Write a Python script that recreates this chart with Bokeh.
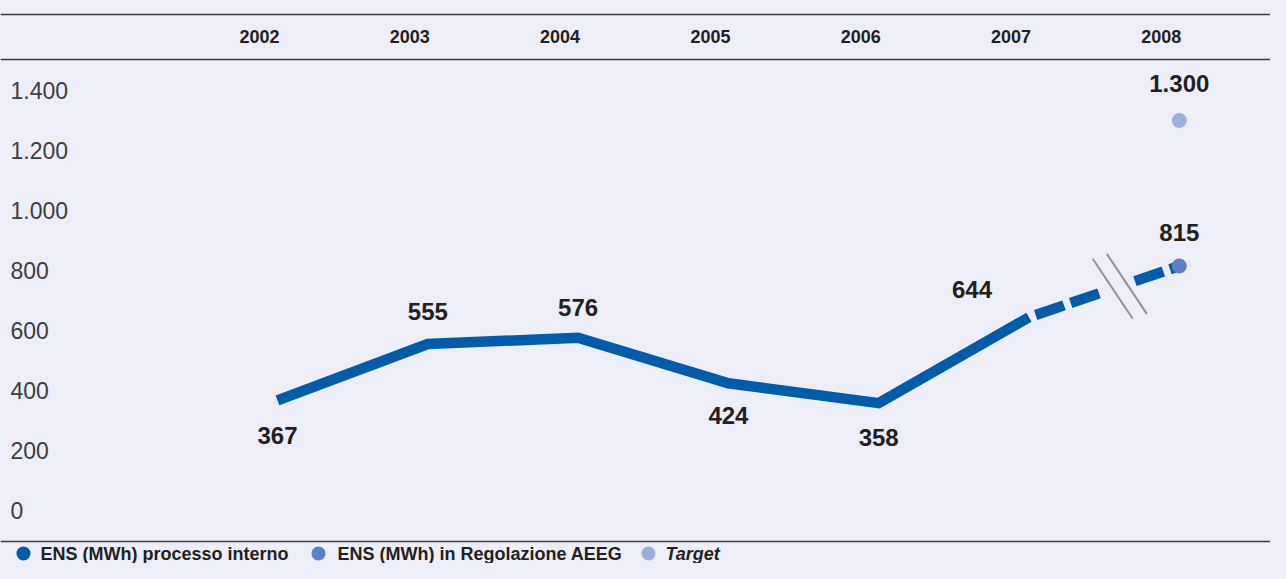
from bokeh.plotting import figure
from bokeh.models import ColumnDataSource, Span, Range1d, GlobalInlineStyleSheet
from bokeh.core.properties import value
from bokeh.embed import file_html
from bokeh.resources import INLINE

# ---------------- data ----------------
years = ["2002", "2003", "2004", "2005", "2006", "2007", "2008"]
ens_internal = [367, 555, 576, 424, 358, 644]          # ENS (MWh) processo interno, 2002-2007
ens_aeeg = [815]                                        # ENS (MWh) in Regolazione AEEG, 2008
target = [1300]                                         # Target, 2008
y_ticks = [0, 200, 400, 600, 800, 1000, 1200, 1400]
legend_labels = ["ENS (MWh) processo interno", "ENS (MWh) in Regolazione AEEG", "Target"]

# ---------------- styles ----------------
BG = "#eeeef8"
C_INT = "#005ca8"
C_AEEG = "#5b80c3"
C_TGT = "#9cafdc"
TXT = "#231f20"
FONT = value("Liberation Sans")

W, H = 1270, 563
PX_PER_CAT = 150.3
PX_PER_UNIT = 0.3
X0 = -277 / PX_PER_CAT            # category index at left canvas edge
Y_TOP = 510 / PX_PER_UNIT         # value at top canvas edge


def sx(px):
    return X0 + px / PX_PER_CAT


def sy(px):
    return Y_TOP - px / PX_PER_UNIT


def fmt(v):
    return f"{v:,}".replace(",", ".")


p = figure(width=W, height=H, output_backend="svg", toolbar_location=None,
           x_range=Range1d(sx(0), sx(W)), y_range=Range1d(sy(H), sy(0)),
           min_border=0)
p.axis.visible = False
p.grid.visible = False
p.outline_line_color = None
p.background_fill_color = BG
p.border_fill_color = BG
p.stylesheets = [GlobalInlineStyleSheet(css="html, body { background-color: #eeeef8; }")]

# horizontal rules
for py in (14, 59, 541):
    p.add_layout(Span(location=sy(py), dimension="width", line_color="#3a3a3a", line_width=1.5))

# year header
n = len(years)
p.text(x=list(range(n)), y=[sy(36)] * n, text=years, x_offset=-18,
       text_font=FONT, text_font_size="18px", text_font_style="bold",
       text_color=TXT, text_align="center", text_baseline="middle")

# y tick labels (left aligned)
p.text(x=[sx(10)] * len(y_ticks), y=y_ticks, text=[fmt(v) for v in y_ticks],
       text_font=FONT, text_font_size="23px", text_color="#3d3d3d",
       text_align="left", text_baseline="middle")

# main line
xi = list(range(len(ens_internal)))
p.line(x=xi, y=ens_internal, line_color=C_INT, line_width=10.5, line_join="miter")

# dashed link 2007 -> 2008 with break
x7, x8 = len(ens_internal) - 1, n - 1
v7, v8 = ens_internal[-1], ens_aeeg[0]


def interp(f):
    return x7 + f * (x8 - x7), v7 + f * (v8 - v7)


fa, fb = 0.49, 0.705
xa, ya = interp(fa)
xb, yb = interp(fb)
p.line(x=[x7, xa], y=[v7, ya], line_color=C_INT, line_width=10.5,
       line_dash="30 7", line_dash_offset=30)
p.line(x=[xb, x8], y=[yb, v8], line_color=C_INT, line_width=10.5, line_dash="30 7")

hx, hy = 20 / PX_PER_CAT, 30 / PX_PER_UNIT
for f in (0.557, 0.651):
    cx, cy = interp(f)
    p.segment(x0=[cx - hx], y0=[cy + hy], x1=[cx + hx], y1=[cy - hy],
              line_color="#929292", line_width=2)

# 2008 points
p.scatter(x=[x8], y=ens_aeeg, size=15, fill_color=C_AEEG, line_color=None)
p.scatter(x=[x8], y=target, size=15, fill_color=C_TGT, line_color=None)

# value labels
lab_x = xi + [x8, x8]
lab_v = ens_internal + ens_aeeg + target
lab_dx = [0, 0, 0, 0, 0, -57, 0, 0]
lab_dy = [35, -33, -30, 32, 34, -28, -34, -37]
lsrc = ColumnDataSource(dict(x=lab_x, y=lab_v, t=[fmt(v) for v in lab_v], dx=lab_dx, dy=lab_dy))
p.text(x="x", y="y", text="t", x_offset="dx", y_offset="dy", source=lsrc,
       text_font=FONT, text_font_size="24px", text_font_style="bold",
       text_color=TXT, text_align="center", text_baseline="middle")

# legend
ly = sy(553)
leg_circle_px = [23, 318, 648]
leg_text_px = [40, 337, 665]
leg_colors = [C_INT, C_AEEG, C_TGT]
leg_styles = ["bold", "bold", "bold italic"]
p.scatter(x=[sx(v) for v in leg_circle_px], y=[ly] * 3, size=14,
          fill_color=leg_colors, line_color=None)
for tpx, lab, st in zip(leg_text_px, legend_labels, leg_styles):
    p.text(x=[sx(tpx)], y=[ly], text=[lab], text_font=FONT, text_font_size="18px",
           text_font_style=st, text_color=TXT, text_align="left", text_baseline="middle")

open("out.html", "w").write(file_html(p, INLINE))
